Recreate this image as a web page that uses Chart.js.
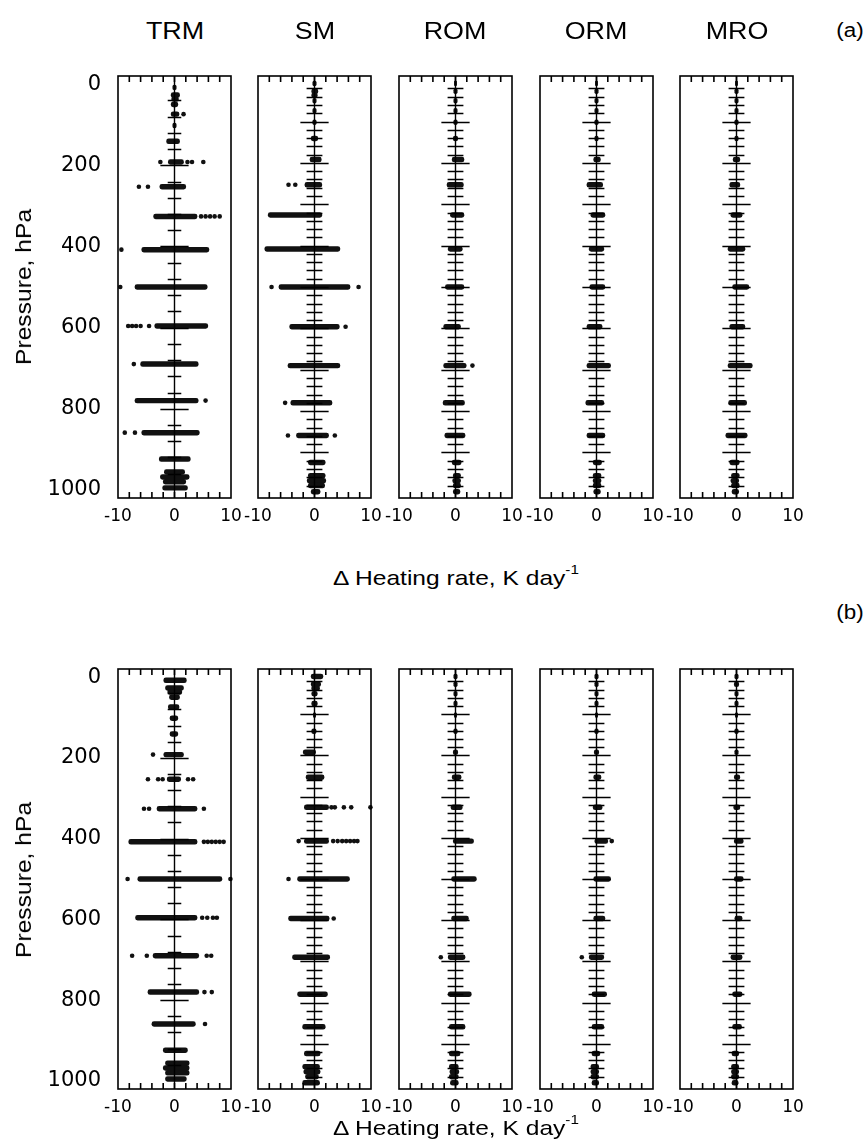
<!DOCTYPE html>
<html>
<head>
<meta charset="utf-8">
<script src="https://cdn.jsdelivr.net/npm/chart.js@4.4.1/dist/chart.umd.min.js"></script>
<style>
  body { margin: 0; background: #fff; width: 865px; height: 1147px; position: relative; overflow: hidden;
         font-family: "Liberation Sans", Arial, sans-serif; color: #000; }
  canvas { position: absolute; }
  .txt { position: absolute; white-space: nowrap; }
</style>
</head>
<body>
<script>
// pressure levels (hPa) where the differences are plotted
const levels = [8, 27, 37, 50, 74, 102, 141, 192, 253, 326, 408, 500, 596, 690, 780, 859, 924, 956, 968, 980, 995];
const panelNames = ['TRM', 'SM', 'ROM', 'ORM', 'MRO'];
const pressureLabels = [0, 200, 400, 600, 800, 1000];
const heatLabels = [-10, 0, 10];

// (a) -- dense spread of each level (lo..hi) plus the loose dots
const trmA_lo = [-0.3, -0.6, -0.5, -0.6, -0.6, -0.3, -1.4, -1.1, -2.6, -3.7, -5.8, -7.0, -3.5, -6.0, -7.0, -5.8, -2.7, -1.8, -2.5, -2.0, -2.1];
const trmA_hi = [0.3, 0.9, 0.7, 0.6, 0.8, 0.3, 0.9, 1.6, 2.0, 4.0, 6.1, 5.8, 5.9, 4.2, 4.2, 4.4, 2.8, 1.8, 2.6, 2.0, 2.3];
const trmA_dotX = [1.6, -2.5, 2.3, 3.1, 5.1, -6.3, -4.7, 4.7, 5.5, 6.3, 7.1, 8.0, -9.4, -9.6, -8.2, -7.5, -6.8, -6.0, -4.5, -7.2, 5.5, -8.8, -7.0];
const trmA_dotP = [74, 192, 192, 192, 192, 253, 253, 326, 326, 326, 326, 326, 408, 500, 596, 596, 596, 596, 596, 690, 780, 859, 859];

const smA_lo = [-0.3, -0.5, -0.5, -0.3, -0.3, -0.3, -0.6, -0.8, -1.7, -8.2, -8.8, -6.3, -4.4, -4.7, -4.2, -3.2, -1.1, -1.1, -1.3, -1.1, -0.6];
const smA_hi = [0.3, 0.6, 0.5, 0.3, 0.3, 0.3, 0.6, 1.2, 1.3, 1.3, 4.5, 6.3, 4.4, 4.5, 3.1, 2.5, 1.9, 1.9, 2.0, 1.8, 1.0];
const smA_dotX = [-4.6, -3.4, -7.6, 7.8, 5.5, -5.2, -4.7, 3.6];
const smA_dotP = [253, 253, 500, 500, 596, 780, 859, 859];

const romA_lo = [-0.2, -0.3, null, -0.3, -0.3, -0.3, -0.4, -0.6, -1.5, -0.9, -1.3, -1.8, -2.1, -2.1, -2.2, -1.9, -0.6, -0.4, -0.5, -0.4, -0.4];
const romA_hi = [0.2, 0.3, null, 0.3, 0.3, 0.3, 0.4, 1.5, 1.4, 1.5, 1.2, 1.5, 0.9, 1.9, 1.6, 1.7, 1.0, 0.9, 0.9, 0.9, 0.8];
const romA_dotX = [3.0];
const romA_dotP = [690];

const ormA_lo = [-0.2, -0.3, null, -0.3, -0.3, -0.3, -0.3, -0.5, -1.7, -1.0, -1.3, -1.2, -1.7, -1.7, -1.9, -1.7, -0.6, -0.6, -0.6, -0.6, -0.5];
const ormA_hi = [0.2, 0.3, null, 0.3, 0.3, 0.3, 0.3, 0.7, 1.1, 1.5, 1.3, 1.5, 1.0, 2.5, 1.3, 1.5, 0.9, 0.8, 0.8, 0.8, 0.7];
const ormA_dotX = [];
const ormA_dotP = [];

const mroA_lo = [-0.2, -0.3, null, -0.3, -0.3, -0.3, -0.3, -0.6, -1.2, -1.0, -1.5, -0.7, -1.2, -1.5, -1.4, -1.9, -1.2, -0.9, -1.0, -0.9, -0.8];
const mroA_hi = [0.2, 0.3, null, 0.3, 0.3, 0.3, 0.3, 0.6, 0.6, 1.0, 1.5, 2.2, 1.5, 2.8, 1.8, 1.9, 0.5, 0.5, 0.4, 0.5, 0.4];
const mroA_dotX = [];
const mroA_dotP = [];

// (b)
const trmB_lo = [-1.9, -1.6, -1.2, -0.9, -1.1, -0.8, -0.8, -1.9, -1.3, -3.1, -8.1, -6.5, -6.9, -3.8, -4.7, -4.0, -2.0, -1.6, -2.0, -1.6, -1.6];
const trmB_hi = [2.1, 1.6, 1.3, 0.9, 0.8, 0.6, 0.6, 1.6, 1.1, 4.0, 4.0, 8.4, 4.0, 4.3, 4.3, 3.7, 2.3, 2.6, 2.6, 2.6, 2.1];
const trmB_dotX = [-3.8, -4.7, -2.9, -2.1, 2.4, 3.3, -5.4, -4.5, 5.2, 5.2, 5.9, 6.6, 7.3, 8.0, 8.7, -8.3, 9.9, 4.9, 5.8, 6.8, 7.5, -7.5, -4.9, 5.7, 6.5, 5.3, 6.6, 5.4];
const trmB_dotP = [192, 253, 253, 253, 253, 253, 326, 326, 326, 408, 408, 408, 408, 408, 408, 500, 500, 596, 596, 596, 596, 690, 690, 690, 690, 780, 780, 859];

const smB_lo = [-0.6, -0.6, -0.5, -0.5, -0.5, -0.2, -0.5, -2.0, -1.5, -1.8, -1.8, -3.0, -4.6, -3.9, -3.0, -2.1, -1.8, -2.1, -1.9, -1.6, -2.1];
const smB_hi = [1.5, 1.1, 0.9, 0.5, 0.5, 0.2, 0.3, 0.2, 1.7, 2.5, 2.5, 6.2, 2.6, 2.7, 2.3, 1.9, 1.0, 0.9, 1.0, 0.7, 0.9];
const smB_dotX = [3.0, 3.6, 5.2, 6.5, 9.9, -2.8, 3.3, 4.1, 4.9, 5.6, 6.3, 7.0, 7.6, -4.6, 3.4];
const smB_dotP = [326, 326, 326, 326, 326, 408, 408, 408, 408, 408, 408, 408, 408, 500, 596];

const romB_lo = [-0.3, -0.3, null, -0.3, -0.3, -0.2, -0.3, -0.4, -0.6, -0.8, -0.4, -0.7, -0.7, -1.3, -1.3, -1.1, -1.1, -1.1, -1.0, -1.1, -0.9];
const romB_hi = [0.3, 0.3, null, 0.3, 0.3, 0.2, 0.3, 0.4, 1.0, 1.2, 3.2, 3.7, 2.3, 1.7, 2.8, 1.7, 0.8, 0.5, 0.6, 0.5, 0.5];
const romB_dotX = [-2.6];
const romB_dotP = [690];

const ormB_lo = [-0.3, -0.3, null, -0.3, -0.3, -0.2, -0.3, -0.4, -0.5, -0.6, -0.3, -0.5, -0.5, -1.3, -0.8, -0.8, -0.8, -1.0, -1.0, -1.0, -0.8];
const ormB_hi = [0.3, 0.3, null, 0.3, 0.3, 0.2, 0.3, 0.4, 0.8, 1.0, 2.0, 2.5, 1.5, 1.3, 1.8, 1.3, 0.6, 0.4, 0.4, 0.4, 0.4];
const ormB_dotX = [2.7, -2.6];
const ormB_dotP = [408, 690];

const mroB_lo = [-0.3, -0.4, null, -0.3, -0.3, -0.2, -0.3, -0.3, -0.4, -0.5, -0.4, -0.4, -0.3, -1.0, -0.7, -0.7, -0.8, -0.9, -0.9, -0.9, -0.8];
const mroB_hi = [0.3, 0.4, null, 0.3, 0.3, 0.2, 0.3, 0.3, 0.6, 0.6, 1.2, 1.2, 1.0, 1.0, 1.0, 0.9, 0.4, 0.4, 0.4, 0.4, 0.3];
const mroB_dotX = [];
const mroB_dotP = [];

// layout (pixels)
const plotLefts = [118, 258, 398.5, 539.5, 680];
const plotW = 113;
const rowTops = [76, 669];
const rowHeights = [422, 420];
const padTop = 30;

// frame, inward x ticks, and the zero line with its pressure ticks
const panelDecor = {
  id: 'panelDecor',
  afterDatasetsDraw(chart, args, opts) {
    const { ctx, chartArea: a, scales: { x, y } } = chart;
    ctx.save();
    ctx.strokeStyle = '#000';
    ctx.lineWidth = 1.6;
    ctx.strokeRect(a.left, a.top, a.right - a.left, a.bottom - a.top);
    ctx.beginPath();
    x.ticks.forEach(t => {
      if (t.value <= x.min || t.value >= x.max) return;
      const px = x.getPixelForValue(t.value);
      ctx.moveTo(px, a.top); ctx.lineTo(px, a.top + 6);
      ctx.moveTo(px, a.bottom); ctx.lineTo(px, a.bottom - 6);
    });
    ctx.stroke();
    ctx.lineWidth = 1.4;
    const x0 = x.getPixelForValue(0);
    ctx.beginPath();
    ctx.moveTo(x0, a.top); ctx.lineTo(x0, a.bottom);
    y.ticks.forEach(t => {
      if (t.value <= y.min || t.value >= y.max) return;
      const major = Math.abs(t.value % opts.major) < 1e-6;
      const half = major ? 2.5 : opts.minorHalf;
      const py = Math.round(y.getPixelForValue(t.value)) + 0.5;
      ctx.moveTo(x.getPixelForValue(-half), py);
      ctx.lineTo(x.getPixelForValue(half), py);
    });
    ctx.stroke();
    ctx.restore();
  }
};

function makePanel(row, col, lo, hi, dotX, dotP) {
  const first = col === 0;
  const padL = first ? 0 : 25;
  const yW = first ? 88 : 0;
  const top = rowTops[row], h = rowHeights[row];
  const cw = padL + yW + plotW + 25;
  const ch = padTop + h + 30;
  const canvas = document.createElement('canvas');
  canvas.width = cw; canvas.height = ch;
  canvas.style.left = (plotLefts[col] - padL - yW) + 'px';
  canvas.style.top = (top - padTop) + 'px';
  document.body.appendChild(canvas);

  const segs = levels.map((p, i) => lo[i] == null ? null : { x: [lo[i], hi[i]], y: p }).filter(Boolean);
  const dots = dotX.map((v, i) => ({ x: v, y: dotP[i] }));

  new Chart(canvas, {
    type: 'scatter',
    data: {
      datasets: [
        { type: 'bar', indexAxis: 'y', data: segs, backgroundColor: '#111', barThickness: 4.8,
          borderRadius: 2.4, borderSkipped: false, grouped: false },
        { type: 'scatter', data: dots, backgroundColor: '#111', borderWidth: 0, pointRadius: 2.3, clip: false }
      ]
    },
    options: {
      responsive: false, animation: false, events: [],
      layout: { padding: { left: padL, right: 25, top: padTop, bottom: 0 } },
      plugins: { legend: { display: false }, tooltip: { enabled: false },
                 panelDecor: { major: first ? 200 : 100, minorHalf: first ? 1.2 : 1.4 } },
      scales: {
        x: {
          type: 'linear', min: -10, max: 10,
          grid: { display: false, drawTicks: false }, border: { display: false },
          ticks: { stepSize: 2, autoSkip: false, maxRotation: 0, padding: 8, color: '#000',
                   font: { family: 'DejaVu Sans', size: 17 },
                   callback: v => heatLabels.includes(v) ? String(v) : '' },
          afterFit: s => { s.height = 30; }
        },
        y: {
          type: 'linear', reverse: true, min: 0, max: 1000,
          grid: { display: false, drawTicks: false }, border: { display: false },
          ticks: { display: first, stepSize: first ? 40 : 20, autoSkip: false, padding: 17, color: '#000',
                   font: { family: 'DejaVu Sans', size: 21 },
                   callback: v => pressureLabels.includes(v) ? String(v) : '' },
          afterFit: s => { s.width = yW; }
        }
      }
    },
    plugins: [panelDecor]
  });
}

const panelData = [
  [[trmA_lo, trmA_hi, trmA_dotX, trmA_dotP], [smA_lo, smA_hi, smA_dotX, smA_dotP], [romA_lo, romA_hi, romA_dotX, romA_dotP],
   [ormA_lo, ormA_hi, ormA_dotX, ormA_dotP], [mroA_lo, mroA_hi, mroA_dotX, mroA_dotP]],
  [[trmB_lo, trmB_hi, trmB_dotX, trmB_dotP], [smB_lo, smB_hi, smB_dotX, smB_dotP], [romB_lo, romB_hi, romB_dotX, romB_dotP],
   [ormB_lo, ormB_hi, ormB_dotX, ormB_dotP], [mroB_lo, mroB_hi, mroB_dotX, mroB_dotP]]
];
panelData.forEach((rowSets, r) => rowSets.forEach((d, c) => makePanel(r, c, d[0], d[1], d[2], d[3])));

// text
function addText(html, x, y, size, extra) {
  const d = document.createElement('div');
  d.className = 'txt';
  d.innerHTML = html;
  d.style.left = x + 'px';
  d.style.top = y + 'px';
  d.style.fontSize = size + 'px';
  d.style.transform = 'translate(-50%, -50%) ' + (extra || 'scaleX(1.12)');
  document.body.appendChild(d);
}
panelNames.forEach((n, c) => addText(n, plotLefts[c] + plotW / 2, 31, 24));
addText('(a)', 850, 30, 20);
addText('(b)', 850, 612, 20);
addText('Pressure, hPa', 24, 287, 22, 'rotate(-90deg) scaleX(1.12)');
addText('Pressure, hPa', 24, 880, 22, 'rotate(-90deg) scaleX(1.12)');
const xTitle = '&Delta; Heating rate, K day<sup style="font-size:0.62em;position:relative;top:-0.25em">-1</sup>';
addText(xTitle, 456, 577, 21, 'scaleX(1.17)');
addText(xTitle, 456, 1127, 21, 'scaleX(1.17)');
</script>
</body>
</html>
